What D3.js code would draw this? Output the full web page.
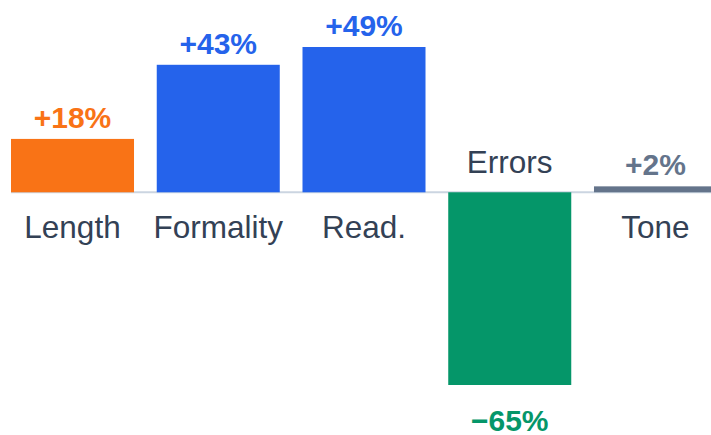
<!DOCTYPE html>
<html>
<head>
<meta charset="utf-8">
<script src="https://cdn.jsdelivr.net/npm/d3@7"></script>
<style>
  html, body { margin: 0; padding: 0; background: #fff; overflow: hidden; }
  text { font-family: "Liberation Sans", Arial, Helvetica, sans-serif; }
</style>
</head>
<body>
<div id="chart"></div>
<script>
// data
const categories = ["Length", "Formality", "Read.", "Errors", "Tone"];
const changes = [18, 43, 49, -65, 2];
const barColors = ["#f97316", "#2563eb", "#2563eb", "#059669", "#64748b"];

const width = 711, height = 435;

const svg = d3.select("#chart").append("svg")
    .attr("width", width)
    .attr("height", height);

const data = categories.map((c, i) => ({cat: c, value: changes[i], color: barColors[i]}));

const x = d3.scaleBand()
    .domain(categories)
    .range([11, 717])
    .paddingInner(0.156)
    .paddingOuter(0);

const y = d3.scaleLinear()
    .domain([-65, 49])
    .range([385, 47]);

// zero line
svg.append("line")
    .attr("x1", 11)
    .attr("x2", width)
    .attr("y1", y(0))
    .attr("y2", y(0))
    .attr("stroke", "#cbd5e1")
    .attr("stroke-width", 2);

svg.selectAll(".bar")
    .data(data)
    .enter()
    .append("rect")
    .attr("class", "bar")
    .attr("x", d => x(d.cat))
    .attr("width", x.bandwidth())
    .attr("y", d => y(Math.max(0, d.value)))
    .attr("height", d => Math.abs(y(d.value) - y(0)))
    .attr("fill", d => d.color);

// value labels
svg.selectAll(".value")
    .data(data)
    .enter()
    .append("text")
    .attr("class", "value")
    .attr("x", d => x(d.cat) + x.bandwidth() / 2)
    .attr("y", d => d.value >= 0 ? y(d.value) - 11 : y(d.value) + 46)
    .attr("text-anchor", "middle")
    .attr("font-size", 30)
    .attr("font-weight", "bold")
    .attr("fill", d => d.color)
    .text(d => (d.value >= 0 ? "+" : "\u2212") + Math.abs(d.value) + "%");

// category labels
svg.selectAll(".cat")
    .data(data)
    .enter()
    .append("text")
    .attr("class", "cat")
    .attr("x", d => x(d.cat) + x.bandwidth() / 2)
    .attr("y", d => d.value >= 0 ? y(0) + 46 : y(0) - 19)
    .attr("text-anchor", "middle")
    .attr("font-size", 31.5)
    .attr("fill", "#334155")
    .text(d => d.cat);
</script>
</body>
</html>
